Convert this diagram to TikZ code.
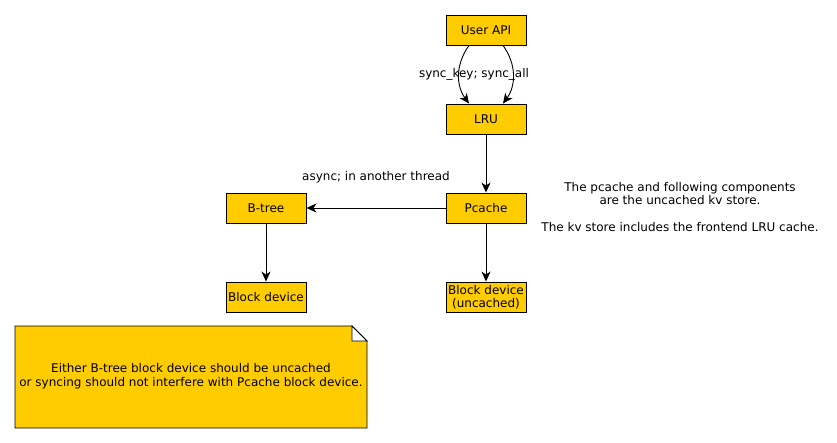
\documentclass[tikz,border=0pt]{standalone}
\usepackage{fontspec}
\setmainfont{DejaVu Sans}
\usepackage{tikz}
\usetikzlibrary{positioning, arrows.meta}
\definecolor{boxfill}{RGB}{255,204,0}
\tikzset{%
	>={Stealth[length=10pt,width=9pt,inset=3pt]},
	every edge/.append style={line width=0.9pt},
	comp/.style = {draw, line width=0.9pt, fill=boxfill, minimum width=80pt, minimum height=30pt, inner sep=1pt, align=center, font=\fontsize{12}{13}\selectfont},
	txt/.style = {align=center, inner sep=0pt, font=\fontsize{12}{13.5}\selectfont}
}
\begin{document}
\begin{tikzpicture}[x=1pt, y=-1pt]
			\useasboundingbox (0,0) rectangle (837,443);
			\node [comp] (api) at (486,30) {User API};
			\node [comp] (lru) at (486,119) {LRU};
			\node [comp] (pcache) at (486,208) {Pcache};
			\node [comp] (btree) at (266,208) {B-tree};
			\node [comp] (bdev) at (266,297) {Block device};
			\node [comp] (ubdev) at (486,297) {Block device\\(uncached)};
			\node [txt] (synclab) at (474,74) {sync\_key; sync\_all};
			\node [txt] (asynclab) at (376,177) {async; in another thread};
			\node [txt] (kvnote) at (680,207) {The pcache and following components\\are the uncached kv store.\\[13.5pt]The kv store includes the frontend LRU cache.};
			\path [->] ([xshift=-17pt]api.south) edge [bend right = 36] ([xshift=-17pt]lru.north);
			\path [->] ([xshift=17pt]api.south) edge [bend left = 36] ([xshift=17pt]lru.north);
			\path [->] (lru) edge (pcache);
			\path [->] (pcache) edge (btree);
			\path [->] (btree) edge (bdev);
			\path [->] (pcache) edge (ubdev);
			% note with folded corner
			\draw [line width=0.9pt, fill=boxfill] (15,326) -- (352,326) -- (367,341) -- (367,428) -- (15,428) -- cycle;
			\draw [line width=0.9pt, fill=white] (352,326) -- (367,341) -- (352,341) -- cycle;
			\node [txt] (fixnote) at (191,376) {Either B-tree block device should be uncached\\or syncing should not interfere with Pcache block device.};
\end{tikzpicture}
\end{document}
